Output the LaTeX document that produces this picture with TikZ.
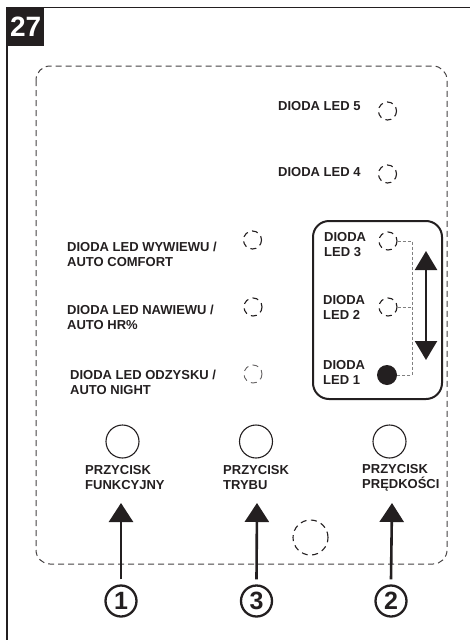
\documentclass[tikz,border=0pt]{standalone}
\usepackage{fontspec}
\setmainfont{Liberation Sans}
\usetikzlibrary{arrows.meta}
\definecolor{ink}{HTML}{231F20}
\tikzset{
  x=1pt, y=-1pt,
  lbl/.style={font=\bfseries\fontsize{13}{15}\selectfont, text=ink, inner sep=0pt, align=left, anchor=north west},
  ledoff/.style={circle, draw=ink, dash pattern=on 6pt off 4.5pt, dash phase=2pt, line width=1.1pt, minimum size=18pt, inner sep=0pt},
  ledon/.style={circle, fill=ink, minimum size=20pt, inner sep=0pt},
  btn/.style={circle, draw=ink, line width=1.1pt, minimum size=33pt, inner sep=0pt},
  numc/.style={circle, draw=ink, line width=2.3pt, minimum size=31pt, inner sep=0pt, font=\bfseries\fontsize{25}{25}\selectfont, text=ink},
  uparrow/.style={draw=ink, line width=2.6pt, -{Triangle[length=19pt, width=24pt]}},
  bus/.style={draw=gray, line width=0.7pt, dash pattern=on 3pt off 2pt},
}
\begin{document}
\begin{tikzpicture}
\useasboundingbox (0,0) rectangle (470,640);
% outer frame
\draw[ink, line width=1.4pt] (7,640) -- (7,7.5) -- (470,7.5);
\node[fill=ink, text=white, font=\bfseries\fontsize{28}{28}\selectfont, minimum width=37pt, minimum height=38pt, inner sep=0pt, anchor=north west] (fig) at (7,8) {27};
% dashed panel
\draw[ink!85, line width=1pt, dash pattern=on 6pt off 4pt, rounded corners=14pt] (36,66) rectangle (447,564);

% LED 5 and 4
\node[lbl] (t5) at (278,101) {DIODA LED 5};
\node[ledoff] (led5) at (387.5,111) {};
\node[lbl] (t4) at (278,167) {DIODA LED 4};
\node[ledoff] (led4) at (387.5,174) {};

% left group
\node[lbl] (tw) at (67,242) {DIODA LED WYWIEWU /\\AUTO COMFORT};
\node[ledoff] (ledw) at (252.5,240) {};
\node[lbl] (tn) at (67,305) {DIODA LED NAWIEWU /\\AUTO HR\%};
\node[ledoff] (ledn) at (253,307) {};
\node[lbl] (to) at (70,370) {DIODA LED ODZYSKU /\\AUTO NIGHT};
\node[ledoff, draw=ink!70, line width=0.9pt] (ledo) at (253,374) {};

% speed group
\draw[ink, line width=2pt, rounded corners=16pt] (313,221) rectangle (442,399);
\node[lbl] (t3) at (324,232) {DIODA\\LED 3};
\node[ledoff] (led3) at (388,241) {};
\node[lbl] (t2) at (323,295) {DIODA\\LED 2};
\node[ledoff] (led2) at (388,307) {};
\node[lbl] (t1) at (323,360) {DIODA\\LED 1};
\node[ledon] (led1) at (387,375) {};
\coordinate (busend) at (412,375);
\draw[bus] (led3.east) -| (busend) -- (led1.east);
\draw[bus] (led2.east) -- (led2.east -| busend);
\coordinate (dtop) at (426,251);
\coordinate (dbot) at (426,360);
\draw[draw=ink, line width=2.3pt, {Triangle[length=19pt, width=22pt]}-{Triangle[length=19pt, width=22pt]}] (dtop) -- (dbot);

% buttons
\node[btn] (bf) at (122.5,441.5) {};
\node[btn] (bt) at (256,441.5) {};
\node[btn] (bp) at (389.5,441.5) {};
\node[lbl] (lf) at (85,465) {PRZYCISK\\FUNKCYJNY};
\node[lbl] (lt) at (223,465) {PRZYCISK\\TRYBU};
\node[lbl] (lp) at (362,464) {PRZYCISK\\PRĘDKOŚCI};

% sensor
\node[circle, draw=ink, dash pattern=on 6pt off 4.5pt, line width=1.1pt, minimum size=35pt, inner sep=0pt] (sens) at (310.5,537.5) {};

% numbers and arrows
\node[numc] (n1) at (121,601) {1};
\node[numc] (n3) at (256.5,601) {3};
\node[numc] (n2) at (391,601) {2};
\coordinate (a1) at (121,503);
\coordinate (a3) at (257,503);
\coordinate (a2) at (392,503);
\draw[uparrow] ([yshift=5pt]n1.north) -- (a1);
\draw[uparrow] ([yshift=5pt]n3.north) -- (a3);
\draw[uparrow] ([yshift=5pt]n2.north) -- (a2);
\end{tikzpicture}
\end{document}
